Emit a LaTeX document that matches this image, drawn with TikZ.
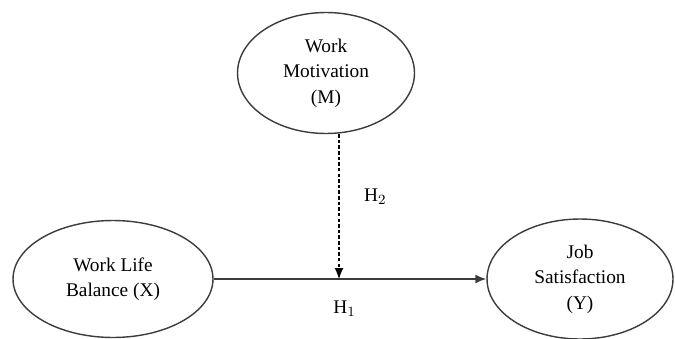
\documentclass[tikz,border=0pt]{standalone}
\usepackage{fontspec}
\setmainfont{Liberation Serif}
\usetikzlibrary{arrows.meta, shapes.geometric}
\definecolor{linecol}{RGB}{60,60,60}

\begin{document}
\begin{tikzpicture}[
  x=0.02cm, y=-0.02cm,
  >={Latex[length=2.2mm, width=1.8mm]},
  varb/.style  = {draw=linecol, line width=0.8pt, ellipse, align=center,
                  inner sep=0pt, font=\fontsize{11}{14.5}\selectfont},
  sig/.style   = {->, line width=0.9pt, draw=linecol},
  modarr/.style= {->, line width=0.7pt, dash pattern=on 2pt off 1.2pt, black},
  hlbl/.style  = {font=\fontsize{11}{13}\selectfont, inner sep=2pt, text=black},
]
\useasboundingbox (0,0) rectangle (675,338);

% ---------- latent variables ----------
\node[varb, minimum width=3.54cm, minimum height=2.42cm] (mot) at (326,73)
  {Work\\Motivation\\(M)};
\node[varb, minimum width=4.0cm, minimum height=2.34cm]  (wlb) at (113,279)
  {Work Life\\Balance (X)};
\node[varb, minimum width=3.72cm, minimum height=2.4cm]  (sat) at (580,279)
  {Job\\Satisfaction\\(Y)};

% ---------- paths ----------
\coordinate (join) at (339,279);
\draw[sig] (wlb.east) -- (sat.west)
  node[hlbl, pos=0.48, below=10pt] (h1) {H$_1$};
\draw[modarr] (join |- mot.south) -- (join)
  node[hlbl, pos=0.43, right=12pt] (h2) {H$_2$};

\end{tikzpicture}
\end{document}
